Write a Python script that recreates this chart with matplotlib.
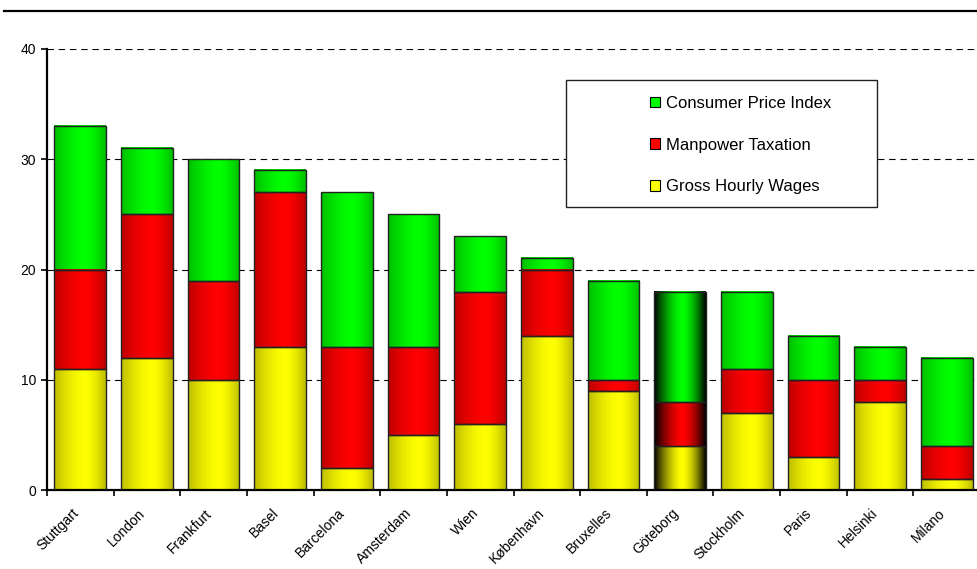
import numpy as np
import matplotlib
matplotlib.use("Agg")
import matplotlib.pyplot as plt
import matplotlib.transforms as mtransforms
from matplotlib.patches import Patch, Rectangle
from matplotlib.lines import Line2D

plt.rcParams['font.family'] = ['Liberation Sans', 'DejaVu Sans']

cities = ['Stuttgart', 'London', 'Frankfurt', 'Basel', 'Barcelona', 'Amsterdam', 'Wien',
          'København', 'Bruxelles', 'Göteborg', 'Stockholm', 'Paris', 'Helsinki', 'Milano']
wages = [11, 12, 10, 13, 2, 5, 6, 14, 9, 4, 7, 3, 8, 1]
taxation = [9, 13, 9, 14, 11, 8, 12, 6, 1, 4, 4, 7, 2, 3]
cpi = [13, 6, 11, 2, 14, 12, 5, 1, 9, 10, 7, 4, 3, 8]
highlight = 'Göteborg'

series = [('Gross Hourly Wages', wages, (1.0, 1.0, 0.0)),
          ('Manpower Taxation', taxation, (1.0, 0.0, 0.0)),
          ('Consumer Price Index', cpi, (0.0, 1.0, 0.0))]


def shade(lo, peak=0.6, n=80):
    # horizontal brightness profile across a bar
    t = np.linspace(0, 1, n)
    d = np.where(t < peak, (peak - t) / peak, (t - peak) / (1 - peak))
    return 1 - (1 - lo) * d ** 1.6


fig = plt.figure(figsize=(9.78, 5.69), dpi=100)
W, H = 978, 569
ax = fig.add_axes([47 / W, (H - 490) / H, 933 / W, 441 / H])

x = np.arange(len(cities))
bottom = np.zeros(len(cities))
for name, vals, col in series:
    bars = ax.bar(x, vals, bottom=bottom, width=0.775, facecolor='none',
                  edgecolor='#222222', linewidth=1.0, zorder=3)
    for city, p in zip(cities, bars.patches):
        lo = 0.0 if city == highlight else 0.74
        prof = shade(lo, peak=0.55 if city == highlight else 0.6)
        img = np.array(col)[None, None, :] * prof[None, :, None]
        ax.imshow(img, extent=[p.get_x(), p.get_x() + p.get_width(),
                               p.get_y(), p.get_y() + p.get_height()],
                  aspect='auto', interpolation='bilinear', zorder=2)
    bottom += np.array(vals)

ax.set_xlim(-0.5, len(cities) - 0.5)
ax.set_ylim(0, 40)
ax.set_aspect('auto')

ax.set_yticks([0, 10, 20, 30, 40])
ax.yaxis.grid(True, color='black', linestyle=(0, (5.8, 4.3)), linewidth=0.8, zorder=1)
ax.set_axisbelow(True)
ax.tick_params(axis='y', length=4, width=1.2, pad=4, labelsize=10)

ax.set_xticks(x - 0.5, minor=False)
ax.set_xticklabels([])
ax.set_xticks(x, minor=True)
ax.set_xticklabels(cities, minor=True, rotation=45, ha='right', va='top',
                   rotation_mode='anchor', fontsize=10)
ax.tick_params(axis='x', which='major', length=4, width=1.2)
ax.tick_params(axis='x', which='minor', length=0, pad=8)
shift = mtransforms.ScaledTranslation(-9 / 100, -5 / 100, fig.dpi_scale_trans)
for lab in ax.get_xticklabels(minor=True):
    lab.set_transform(lab.get_transform() + shift)

for s in ['top', 'right']:
    ax.spines[s].set_visible(False)
ax.spines['left'].set_linewidth(1.6)
ax.spines['bottom'].set_linewidth(1.6)

# legend frame and entries
fig.add_artist(Rectangle((566 / W, 1 - 207 / H), 311 / W, 127 / H, transform=fig.transFigure,
                         facecolor='white', edgecolor='#222222', linewidth=1.0, zorder=5))
handles = [Patch(facecolor=col, edgecolor='black', linewidth=0.8) for _, _, col in series[::-1]]
labels = [name for name, _, _ in series[::-1]]
leg = fig.legend(handles, labels, loc='center left', bbox_to_anchor=(650 / W, 1 - 145 / H),
                 frameon=False, fontsize=12, handlelength=0.6, handleheight=0.6,
                 handletextpad=0.35, labelspacing=1.6, borderpad=0, borderaxespad=0)
leg.set_zorder(6)

# rule across the top
fig.add_artist(Line2D([4 / W, 1], [1 - 11 / H, 1 - 11 / H], color='black', linewidth=1.6))

fig.savefig('out.png', dpi=100)
